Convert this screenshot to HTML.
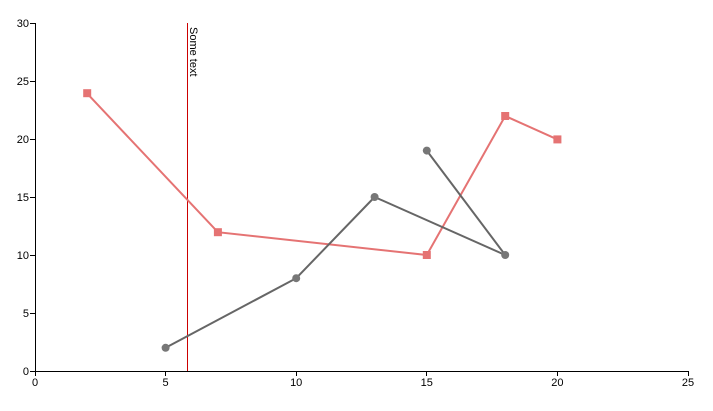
<!DOCTYPE html><html><head><style>body{margin:0;background:#fff}svg{display:block;font-family:"Liberation Sans",sans-serif;font-size:11px}</style></head><body>
<svg width="713" height="411" viewBox="0 0 713 411">
<g stroke="#000" stroke-width="1" fill="none">
<path d="M35.5 23V371.5H688"/>
<path d="M30 23.5h5M30 81.5h5M30 139.5h5M30 197.5h5M30 255.5h5M30 313.5h5M30 371.5h5"/>
<path d="M35.5 371v5M165.5 371v5M296.5 371v5M426.5 371v5M557.5 371v5M688.5 371v5"/>
</g>
<g text-anchor="end" fill="#000">
<text x="29" y="27">30</text><text x="29" y="85">25</text><text x="29" y="143">20</text><text x="29" y="201">15</text><text x="29" y="259">10</text><text x="29" y="317">5</text><text x="29" y="375">0</text>
</g>
<g text-anchor="middle" fill="#000">
<text x="35" y="386">0</text><text x="165.6" y="386">5</text><text x="296.2" y="386">10</text><text x="426.8" y="386">15</text><text x="557.4" y="386">20</text><text x="688" y="386">25</text>
</g>
<line x1="187.5" y1="23" x2="187.5" y2="371" stroke="#c00" stroke-width="1"/>
<text transform="translate(190,27) rotate(90)" fill="#000">Some text</text>
<polyline points="87.2,93.6 217.9,232.2 426.8,255 505.2,116 557.4,139.4" fill="none" stroke="#e57373" stroke-width="2"/>
<g fill="#e57373"><rect x="83.2" y="89.2" width="8" height="8"/><rect x="213.9" y="228.2" width="8" height="8"/><rect x="422.8" y="251" width="8" height="8"/><rect x="501.2" y="112" width="8" height="8"/><rect x="553.4" y="135.4" width="8" height="8"/></g>
<polyline points="165.6,347.8 296.2,278.2 374.6,197 505.2,255 426.8,150.6" fill="none" stroke="#666" stroke-width="2"/>
<g fill="#777"><circle cx="165.6" cy="347.8" r="4"/><circle cx="296.2" cy="278.2" r="4"/><circle cx="374.6" cy="197" r="4"/><circle cx="505.2" cy="255" r="4"/><circle cx="426.8" cy="150.6" r="4"/></g>
</svg></body></html>
